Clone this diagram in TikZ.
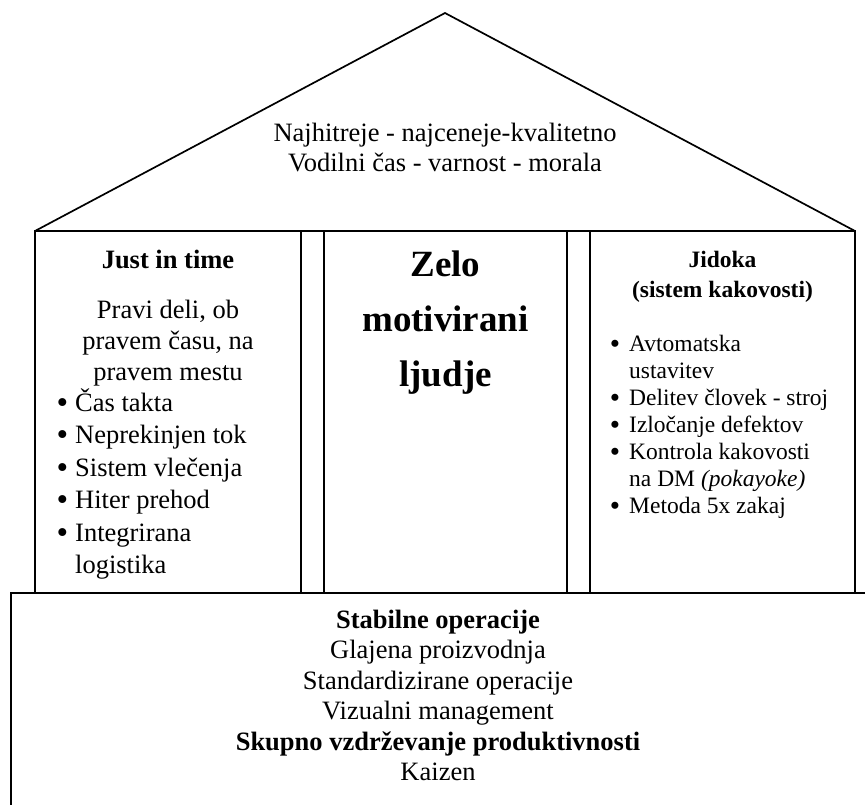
\documentclass[tikz,border=0pt]{standalone}
\usepackage{fontspec}
\setmainfont{Liberation Serif}
\newcommand{\dotmark}[1]{\llap{\raisebox{-2.2pt}{\scalebox{1.25}{•}}\hspace{#1}}}
\begin{document}
\begin{tikzpicture}[x=1pt,y=-1pt,
  wall/.style={draw, line width=1.7pt, inner sep=0pt, outer sep=0pt, anchor=north west},
  roofline/.style={draw, line width=1.7pt},
  body/.style={inner sep=0pt, anchor=base, font=\fontsize{26.5}{30}\selectfont},
  bodyl/.style={body, anchor=base west},
  bodyb/.style={body, font=\fontsize{26.5}{30}\selectfont\bfseries},
  small/.style={inner sep=0pt, anchor=base, font=\fontsize{23.5}{27}\selectfont},
  smalll/.style={small, anchor=base west},
  smallb/.style={small, font=\fontsize{23.5}{27}\selectfont\bfseries},
  big/.style={inner sep=0pt, anchor=base, font=\fontsize{37}{40}\selectfont\bfseries},
]
\useasboundingbox (0,0) rectangle (865,804);

% walls of the house
\node[wall, minimum width=266pt, minimum height=362pt] (jit)    at (35,231)  {};
\node[wall, minimum width=23pt,  minimum height=362pt] (gapL)   at (301,231) {};
\node[wall, minimum width=243pt, minimum height=362pt] (people) at (324,231) {};
\node[wall, minimum width=23pt,  minimum height=362pt] (gapR)   at (567,231) {};
\node[wall, minimum width=265pt, minimum height=362pt] (jidoka) at (590,231) {};
\node[wall, minimum width=880pt, minimum height=260pt] (base)   at (11,593)  {};

% roof
\coordinate (apex) at (445,13);
\draw[roofline] (jit.north west) -- (apex) -- (jidoka.north east);

% roof text
\node[body] (goal1) at (445,141) {Najhitreje - najceneje-kvalitetno};
\node[body] (goal2) at (445,171) {Vodilni čas - varnost - morala};

% left pillar
\node[bodyb] (jit-title) at (168,268) {Just in time};
\node[body] (jit-i1) at (168,318) {Pravi deli, ob};
\node[body] (jit-i2) at (168,349) {pravem času, na};
\node[body] (jit-i3) at (168,380) {pravem mestu};
\foreach \t [count=\i] in {Čas takta, Neprekinjen tok, Sistem vlečenja, Hiter prehod, Integrirana}
  \node[bodyl] (jit-b\i) at (75,{411+32.5*(\i-1)}) {\dotmark{7pt}\t};
\node[bodyl] (jit-b6) at (75,573) {logistika};

% middle pillar
\node[big] (ppl1) at (445.5,276) {Zelo};
\node[big] (ppl2) at (445.5,331) {motivirani};
\node[big] (ppl3) at (445.5,386) {ljudje};

% right pillar
\node[smallb] (jid-title1) at (722.5,267) {Jidoka};
\node[smallb] (jid-title2) at (722.5,297) {(sistem kakovosti)};
\node[smalll] (jid-b1) at (629,351) {\dotmark{9pt}Avtomatska};
\node[smalll] (jid-b1b) at (629,378) {ustavitev};
\node[smalll] (jid-b2) at (629,405) {\dotmark{9pt}Delitev človek - stroj};
\node[smalll] (jid-b3) at (629,432) {\dotmark{9pt}Izločanje defektov};
\node[smalll] (jid-b4) at (629,459) {\dotmark{9pt}Kontrola kakovosti};
\node[smalll] (jid-b4b) at (629,486) {na DM \textit{(pokayoke)}};
\node[smalll] (jid-b5) at (629,513) {\dotmark{9pt}Metoda 5x zakaj};

% foundation
\node[bodyb] (base1) at (438,628)   {Stabilne operacije};
\node[body]  (base2) at (438,658.5) {Glajena proizvodnja};
\node[body]  (base3) at (438,689)   {Standardizirane operacije};
\node[body]  (base4) at (438,719.5) {Vizualni management};
\node[bodyb] (base5) at (438,750)   {Skupno vzdrževanje produktivnosti};
\node[body]  (base6) at (438,780)   {Kaizen};
\end{tikzpicture}
\end{document}
